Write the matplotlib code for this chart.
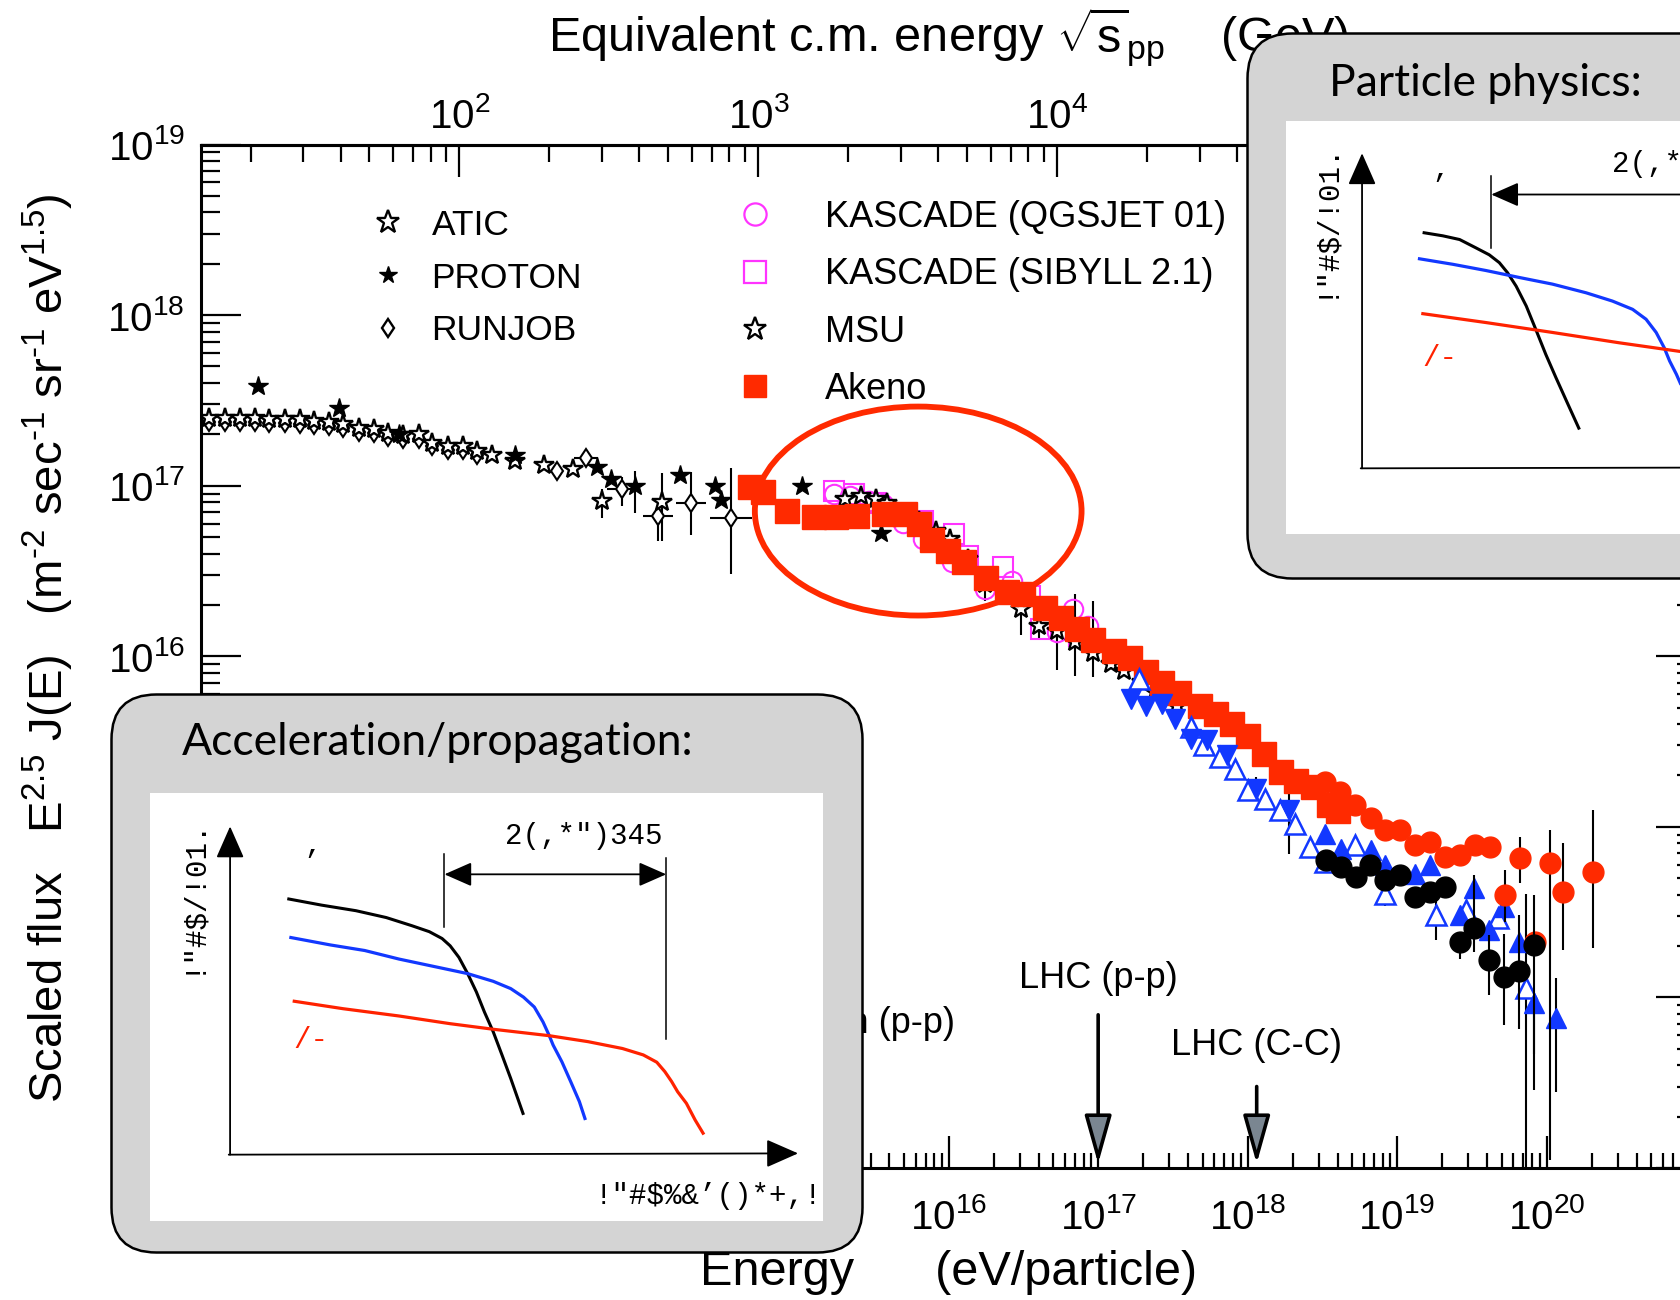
import numpy as np
import matplotlib
matplotlib.use('Agg')
import matplotlib.pyplot as plt
from matplotlib.lines import Line2D
from matplotlib.patches import FancyBboxPatch, Ellipse
from matplotlib.ticker import FixedLocator, FixedFormatter, LogLocator, NullFormatter

plt.rcParams['font.family'] = ['Liberation Sans', 'DejaVu Sans']
plt.rcParams['mathtext.fontset'] = 'custom'
plt.rcParams['mathtext.rm'] = 'Liberation Sans'
plt.rcParams['mathtext.it'] = 'Liberation Sans:italic'
plt.rcParams['mathtext.bf'] = 'Liberation Sans:bold'
plt.rcParams['mathtext.sf'] = 'Liberation Sans'

# ---------------- data (E in eV, scaled flux) ----------------
atic_E = [1.13e11, 1.43e11, 1.82e11, 2.29e11, 2.84e11, 3.62e11, 4.54e11, 5.66e11, 7.19e11,
          8.85e11, 1.13e12, 1.43e12, 1.76e12, 2.24e12, 2.84e12, 3.50e12, 4.46e12, 5.66e12,
          6.97e12, 8.85e12, 1.25e13, 1.95e13, 3.06e13, 4.78e13, 1.21e14]
atic_F = [2.50e17, 2.48e17, 2.50e17, 2.50e17, 2.45e17, 2.45e17, 2.45e17, 2.39e17, 2.36e17,
          2.29e17, 2.19e17, 2.14e17, 2.05e17, 1.97e17, 2.00e17, 1.79e17, 1.71e17, 1.71e17,
          1.60e17, 1.51e17, 1.40e17, 1.33e17, 1.25e17, 8.1e16, 8.0e16]
atic_lo = [0] * 23 + [0.10, 0.23]
atic_hi = [0] * 23 + [0.07, 0.17]

proton_E = [2.39e11, 8.38e11, 2.09e12, 1.25e13, 4.46e13, 5.48e13, 8.00e13, 1.59e14, 2.75e14,
            2.99e14, 1.05e15, 3.50e15]
proton_F = [3.83e17, 2.86e17, 2.00e17, 1.51e17, 1.28e17, 1.09e17, 9.95e16, 1.15e17, 1.00e17,
            8.24e16, 1.00e17, 5.31e16]
proton_lo = [0, 0, 0, 0, 0, 0, 0.16, 0, 0, 0, 0, 0]
proton_hi = [0, 0, 0, 0, 0, 0, 0.09, 0, 0, 0, 0, 0]

runjob_E = [1.13e11, 1.43e11, 1.82e11, 2.29e11, 2.84e11, 3.62e11, 4.54e11, 5.66e11, 7.19e11,
            8.85e11, 1.13e12, 1.43e12, 1.76e12, 2.24e12, 2.84e12, 3.50e12, 4.46e12, 5.66e12,
            6.97e12, 2.40e13, 3.75e13, 6.50e13, 1.13e14, 1.89e14, 3.51e14]
runjob_F = [2.36e17, 2.35e17, 2.36e17, 2.36e17, 2.32e17, 2.32e17, 2.31e17, 2.26e17, 2.23e17,
            2.17e17, 2.07e17, 2.03e17, 1.94e17, 1.87e17, 1.89e17, 1.70e17, 1.62e17, 1.62e17,
            1.52e17, 1.22e17, 1.46e17, 9.53e16, 6.66e16, 7.96e16, 6.50e16]
runjob_lo = [0] * 19 + [0, 0, 0.10, 0.15, 0.19, 0.33]
runjob_hi = [0] * 19 + [0, 0, 0.07, 0.08, 0.18, 0.29]
runjob_xe = [0] * 19 + [0, 0.08, 0.10, 0.10, 0.10, 0.14]

kq_E = [1.70e15, 2.17e15, 2.95e15, 3.62e15, 4.94e15, 6.73e15, 1.05e16, 1.76e16, 2.66e16,
        5.30e16, 6.75e16, 8.57e16]
kq_F = [8.91e16, 8.71e16, 8.13e16, 7.78e16, 6.08e16, 4.85e16, 3.55e16, 2.48e16, 2.77e16,
        1.38e16, 1.89e16, 1.51e16]

ks_E = [1.70e15, 2.32e15, 3.27e15, 4.94e15, 6.73e15, 1.09e16, 1.34e16, 2.32e16, 3.51e16,
        4.17e16, 7.48e16]
ks_F = [9.31e16, 8.91e16, 7.96e16, 6.65e16, 6.21e16, 5.20e16, 3.88e16, 3.32e16, 2.26e16,
        1.45e16, 1.32e16]

msu_E = [2.02e15, 2.57e15, 3.27e15, 3.88e15, 6.28e15, 8.28e15, 1.02e16, 1.34e16, 1.76e16,
         3.05e16, 4.03e16, 5.30e16, 6.97e16, 9.18e16, 1.21e17, 1.49e17, 1.96e17, 2.40e17, 3.39e17]
msu_F = [8.32e16, 8.71e16, 8.32e16, 7.96e16, 6.21e16, 5.43e16, 4.85e16, 3.71e16, 2.65e16,
         1.89e16, 1.51e16, 1.41e16, 1.21e16, 1.05e16, 9.02e15, 8.24e15, 7.05e15, 6.15e15, 5.14e15]
msu_lo = [0, 0, 0, 0, 0, 0, 0, 0, 0.10, 0.15, 0.07, 0.23, 0.20, 0.14, 0, 0, 0, 0, 0]
msu_hi = [0, 0, 0, 0, 0, 0, 0, 0, 0.05, 0.08, 0.15, 0.02, 0.28, 0.30, 0, 0, 0, 0, 0]

akeno_E = [4.68e14, 5.70e14, 8.34e14, 1.26e15, 1.75e15, 2.44e15, 3.68e15, 5.13e15, 6.35e15,
           7.74e15, 9.91e15, 1.27e16, 1.77e16, 2.46e16, 3.15e16, 4.39e16, 5.61e16, 7.19e16,
           9.20e16, 1.28e17, 1.64e17, 2.10e17, 2.69e17, 3.45e17, 4.80e17, 6.15e17, 7.87e17,
           1.01e18, 1.29e18, 1.66e18, 2.12e18, 2.72e18, 3.48e18, 4.01e18]
akeno_F = [9.86e16, 9.16e16, 7.08e16, 6.58e16, 6.58e16, 6.67e16, 6.87e16, 6.87e16, 5.94e16,
           4.79e16, 4.15e16, 3.59e16, 2.89e16, 2.39e16, 2.33e16, 1.93e16, 1.67e16, 1.45e16,
           1.25e16, 1.08e16, 9.79e15, 8.11e15, 7.01e15, 6.08e15, 5.11e15, 4.60e15, 3.98e15,
           3.39e15, 2.69e15, 2.09e15, 1.86e15, 1.70e15, 1.35e15, 1.24e15]

redc_E = [3.28e18, 4.13e18, 5.20e18, 6.73e18, 8.26e18, 1.04e19, 1.31e19, 1.65e19, 2.08e19,
          2.62e19, 3.30e19, 4.16e19, 5.25e19, 6.61e19, 8.32e19, 1.05e20, 1.29e20, 2.04e20]
redc_F = [1.83e15, 1.60e15, 1.34e15, 1.12e15, 9.55e14, 9.55e14, 7.80e14, 8.17e14, 6.67e14,
          6.81e14, 7.80e14, 7.62e14, 3.97e14, 6.52e14, 2.12e14, 6.10e14, 4.16e14, 5.45e14]
redc_lo = [0] * 11 + [0.05, 0.155, 0.146, 0, 1.74, 0.341, 0.449]
redc_hi = [0] * 11 + [0.05, 0.146, 0.127, 0, 0.195, 0.283, 0.361]

blkc_E = [3.37e18, 4.24e18, 5.28e18, 6.62e18, 8.26e18, 1.04e19, 1.31e19, 1.65e19, 2.08e19,
          2.62e19, 3.25e19, 4.12e19, 5.16e19, 6.55e19, 8.24e19]
blkc_F = [6.37e14, 5.82e14, 5.09e14, 5.96e14, 4.86e14, 5.20e14, 3.89e14, 4.16e14, 4.45e14,
          2.12e14, 2.54e14, 1.66e14, 1.32e14, 1.42e14, 2.03e14]
blkc_lo = [0] * 9 + [0.10, 0.136, 0.205, 0.28, 0.34, 0.85]
blkc_hi = [0] * 9 + [0.05, 0.31, 0.146, 0.25, 0.33, 0.29]

bup_E = [3.28e18, 4.24e18, 6.73e18, 8.26e18, 1.31e19, 1.65e19, 2.62e19, 3.25e19, 4.12e19,
         5.16e19, 6.55e19, 8.24e19, 1.16e20]
bup_F = [9.12e14, 7.45e14, 7.29e14, 5.96e14, 5.32e14, 5.96e14, 3.03e14, 4.35e14, 2.48e14,
         3.40e14, 2.12e14, 9.23e13, 7.55e13]
bup_lo = [0] * 11 + [0.30, 0.43]
bup_hi = [0] * 11 + [0.0, 0.233]

bopen_E = [1.89e17, 4.17e17, 5.13e17, 6.52e17, 8.28e17, 1.01e18, 1.30e18, 1.64e18, 2.07e18,
           2.60e18, 3.28e18, 5.20e18, 8.26e18, 1.83e19, 2.91e19, 4.73e19, 7.33e19]
bopen_F = [7.36e15, 3.85e15, 3.00e15, 2.56e15, 2.19e15, 1.64e15, 1.46e15, 1.25e15, 1.04e15,
           7.62e14, 6.24e14, 7.80e14, 4.06e14, 3.03e14, 3.24e14, 2.90e14, 1.13e14]
bopen_lo = [0] * 12 + [0.07, 0.146, 0, 0, 1.05]
bopen_hi = [0] * 12 + [0.07, 0.117, 0, 0, 0.55]

bdown_E = [1.65e17, 2.09e17, 2.67e17, 3.27e17, 4.17e17, 5.31e17, 7.23e17, 1.13e18, 1.89e18]
bdown_F = [5.62e15, 5.14e15, 5.26e15, 4.30e15, 3.28e15, 3.21e15, 2.62e15, 1.67e15, 1.25e15]
bdown_lo = [0] * 7 + [0.07, 0.254]
bdown_hi = [0] * 7 + [0.07, 0.107]

collider_labels = ["Tevatron (p-p)", "LHC (p-p)", "LHC (C-C)"]
collider_E = [1.96e15, 1.0e17, 1.15e18]
collider_text_F = [7.0e13, 1.29e14, 5.2e13]
collider_top_F = [4.4e13, 7.9e13, 3.0e13]
collider_tip_F = [1.06e13, 1.06e13, 1.06e13]

x_exps = list(range(11, 22))
x_labelled = list(range(16, 21))      # decades whose labels are not hidden by the inset
y_exps = list(range(13, 20))
y_labelled = list(range(16, 20))
top_exps = [1, 2, 3, 4, 5]
top_labelled = [2, 3, 4]

# schematic inset curves (normalised panel coordinates)
acc_black_x = [0.204, 0.255, 0.306, 0.351, 0.389, 0.415, 0.434, 0.446, 0.459, 0.472, 0.485,
               0.497, 0.510, 0.523, 0.536, 0.555]
acc_black_y = [0.753, 0.738, 0.725, 0.709, 0.690, 0.676, 0.660, 0.643, 0.616, 0.578, 0.535,
               0.488, 0.442, 0.388, 0.333, 0.248]
acc_blue_x = [0.207, 0.268, 0.319, 0.370, 0.421, 0.472, 0.510, 0.536, 0.555, 0.571, 0.584,
              0.593, 0.599, 0.612, 0.625, 0.638, 0.647]
acc_blue_y = [0.663, 0.645, 0.632, 0.612, 0.595, 0.578, 0.560, 0.543, 0.523, 0.500, 0.465,
              0.434, 0.411, 0.372, 0.326, 0.279, 0.236]
acc_red_x = [0.212, 0.287, 0.370, 0.446, 0.510, 0.593, 0.651, 0.702, 0.733, 0.753, 0.765,
             0.775, 0.784, 0.797, 0.810, 0.823]
acc_red_y = [0.514, 0.496, 0.479, 0.461, 0.448, 0.433, 0.419, 0.403, 0.388, 0.371, 0.349,
             0.326, 0.302, 0.275, 0.236, 0.202]

pp_black_x = [0.203, 0.233, 0.258, 0.282, 0.302, 0.317, 0.329, 0.342, 0.357, 0.371, 0.386,
              0.401, 0.419, 0.436]
pp_black_y = [0.730, 0.722, 0.713, 0.693, 0.676, 0.657, 0.633, 0.600, 0.552, 0.496, 0.435,
              0.379, 0.314, 0.253]
pp_blue_x = [0.196, 0.248, 0.297, 0.347, 0.396, 0.446, 0.485, 0.515, 0.535, 0.550, 0.562,
             0.570, 0.580, 0.590]
pp_blue_y = [0.667, 0.653, 0.638, 0.621, 0.605, 0.584, 0.564, 0.544, 0.520, 0.488, 0.451,
             0.419, 0.387, 0.350]
pp_red_x = [0.201, 0.297, 0.396, 0.495, 0.590]
pp_red_y = [0.534, 0.512, 0.488, 0.463, 0.441]

RED = '#ff2a00'
BLUE = '#1238ff'
MAG = '#ff33ff'

W, H = 1680, 1300
fig = plt.figure(figsize=(W / 100, H / 100), dpi=100)
fig.patch.set_facecolor('white')

ax_l, ax_r, ax_t, ax_b = 201.4, 1696.0, 144.6, 1167.9
ax = fig.add_axes([ax_l / W, 1 - ax_b / H, (ax_r - ax_l) / W, (ax_b - ax_t) / H])
ax.set_xscale('log')
ax.set_yscale('log')
ax.set_xlim(1e11, 1e21)
ax.set_ylim(1e13, 1e19)


def dec_err(F, lo, hi):
    F = np.asarray(F, float)
    return [F * (1 - 10 ** (-np.asarray(lo, float))), F * (10 ** np.asarray(hi, float) - 1)]


def plot_set(E, F, lo=None, hi=None, xe=None, z=3, **kw):
    E = np.asarray(E, float)
    F = np.asarray(F, float)
    yerr = dec_err(F, lo, hi) if lo is not None else None
    xerr = dec_err(E, xe, xe) if xe is not None else None
    ax.errorbar(E, F, yerr=yerr, xerr=xerr, ls='none', ecolor='k', elinewidth=1.5,
                capsize=0, zorder=z, **kw)


star_open = dict(marker='*', ms=14.5, mfc='white', mec='k', mew=1.7)
diam_open = dict(marker='d', ms=9.5, mfc='white', mec='k', mew=1.5)
plot_set(runjob_E, runjob_F, runjob_lo, runjob_hi, runjob_xe, **diam_open)
plot_set(atic_E, atic_F, atic_lo, atic_hi, **star_open)
plot_set(proton_E, proton_F, proton_lo, proton_hi, marker='*', ms=15, mfc='k', mec='k')
plot_set(kq_E, kq_F, marker='o', ms=14, mfc='none', mec=MAG, mew=1.5)
plot_set(ks_E, ks_F, marker='s', ms=14, mfc='none', mec=MAG, mew=1.5)
plot_set(msu_E, msu_F, msu_lo, msu_hi, **star_open)
plot_set(akeno_E, akeno_F, marker='s', ms=17, mfc=RED, mec=RED, z=4)
plot_set(bopen_E, bopen_F, bopen_lo, bopen_hi, marker='^', ms=15, mfc='white', mec=BLUE,
         mew=1.8, z=4)
plot_set(bdown_E, bdown_F, bdown_lo, bdown_hi, marker='v', ms=15, mfc=BLUE, mec=BLUE, z=4)
plot_set(bup_E, bup_F, bup_lo, bup_hi, marker='^', ms=15, mfc=BLUE, mec=BLUE, z=4)
plot_set(redc_E, redc_F, redc_lo, redc_hi, marker='o', ms=15, mfc=RED, mec=RED, z=5)
plot_set(blkc_E, blkc_F, blkc_lo, blkc_hi, marker='o', ms=15, mfc='k', mec='k', z=6)

# highlight ellipse
ax.add_patch(Ellipse((0.4796, 0.6419), 0.2186, 0.2042, transform=ax.transAxes,
                     fill=False, ec=RED, lw=4.2, zorder=7))

# collider arrows
for lab, e, ft, fa, fb in zip(collider_labels, collider_E, collider_text_F,
                              collider_top_F, collider_tip_F):
    ax.annotate('', xy=(e, fb), xytext=(e, fa),
                arrowprops=dict(arrowstyle='-|>,head_length=1.5,head_width=0.42',
                                mutation_scale=20, lw=2.6, ec='k', fc='#7a8691',
                                shrinkA=0, shrinkB=0), zorder=8)
    ax.text(e, ft, lab, ha='center', va='center', fontsize=26, zorder=8)


def dec_labels(exps, shown):
    return [r'$\mathdefault{10^{%d}}$' % e if e in shown else '' for e in exps]


# axes styling
for s in ax.spines.values():
    s.set_linewidth(2.2)
ax.xaxis.set_major_locator(FixedLocator([10.0 ** e for e in x_exps]))
ax.xaxis.set_major_formatter(FixedFormatter(dec_labels(x_exps, x_labelled)))
ax.xaxis.set_minor_locator(LogLocator(base=10, subs=np.arange(2, 10), numticks=40))
ax.xaxis.set_minor_formatter(NullFormatter())
ax.yaxis.set_major_locator(FixedLocator([10.0 ** e for e in y_exps]))
ax.yaxis.set_major_formatter(FixedFormatter(dec_labels(y_exps, y_labelled)))
ax.yaxis.set_minor_locator(LogLocator(base=10, subs=np.arange(2, 10), numticks=40))
ax.yaxis.set_minor_formatter(NullFormatter())
ax.tick_params(axis='both', which='both', direction='in', top=False, right=True,
               labelsize=29, width=1.6)
ax.tick_params(axis='x', which='major', length=23, pad=22)
ax.tick_params(axis='x', which='minor', length=11)
ax.tick_params(axis='y', which='major', length=29, pad=12)
ax.tick_params(axis='y', which='minor', length=14)

m2 = 2 * 0.938e9


def fwd(E):
    return np.sqrt(m2 * np.clip(np.asarray(E, float), 1e-30, None)) / 1e9


def inv(s):
    return (np.asarray(s, float) * 1e9) ** 2 / m2


secax = ax.secondary_xaxis('top', functions=(fwd, inv))
secax.xaxis.set_major_locator(FixedLocator([10.0 ** e for e in top_exps]))
secax.xaxis.set_major_formatter(FixedFormatter(dec_labels(top_exps, top_labelled)))
secax.xaxis.set_minor_locator(LogLocator(base=10, subs=np.arange(2, 10), numticks=40))
secax.xaxis.set_minor_formatter(NullFormatter())
secax.tick_params(axis='x', which='both', direction='in', labelsize=29, width=1.6)
secax.tick_params(axis='x', which='major', length=23, pad=6)
secax.tick_params(axis='x', which='minor', length=12)
secax.spines['top'].set_linewidth(2.2)

ax.text(0.5, 1.1046, r'Equivalent c.m. energy $\sqrt{\mathregular{s}}_{\mathregular{pp}}$    (GeV)',
        transform=ax.transAxes, ha='center', va='center', fontsize=35)
ax.set_xlabel('Energy      (eV/particle)', fontsize=35, va='center')
ax.xaxis.set_label_coords(0.5, -0.1027)
ax.set_ylabel(r'Scaled flux   E$^{2.5}$ J(E)   (m$^{\text{-2}}$ sec$^{\text{-1}}$ '
              r'sr$^{\text{-1}}$ eV$^{1.5}$)',
              fontsize=34, va='center', ha='center')
ax.yaxis.set_label_coords(-0.1026, 0.508)

# legends
h = dict(ls='none')
hl1 = [Line2D([], [], **h, marker='*', ms=17, mfc='white', mec='k', mew=1.7),
       Line2D([], [], **h, marker='*', ms=13, mfc='k', mec='k'),
       Line2D([], [], **h, marker='d', ms=9.5, mfc='white', mec='k', mew=1.7)]
leg1 = ax.legend(hl1, ['ATIC', 'PROTON', 'RUNJOB'], loc='upper left',
                 bbox_to_anchor=(0.2202, 0.8394), bbox_transform=fig.transFigure,
                 frameon=False, fontsize=25.5, handlelength=1.0, handletextpad=0.74,
                 labelspacing=0.56, borderpad=0, borderaxespad=0, numpoints=1)
ax.add_artist(leg1)
hl2 = [Line2D([], [], **h, marker='o', ms=16, mfc='none', mec=MAG, mew=1.6),
       Line2D([], [], **h, marker='s', ms=16, mfc='none', mec=MAG, mew=1.6),
       Line2D([], [], **h, marker='*', ms=17, mfc='white', mec='k', mew=1.7),
       Line2D([], [], **h, marker='s', ms=16, mfc=RED, mec=RED)]
ax.legend(hl2, ['KASCADE (QGSJET 01)', 'KASCADE (SIBYLL 2.1)', 'MSU', 'Akeno'],
          loc='upper left', bbox_to_anchor=(0.4387, 0.8462), bbox_transform=fig.transFigure,
          frameon=False, fontsize=26, handlelength=1.0, handletextpad=1.44,
          labelspacing=0.62, borderpad=0, borderaxespad=0, numpoints=1)


# ---------------- inset panels ----------------
def panel(box_px, inner_px, title, title_xy, z):
    bx, by, bw, bh = box_px
    bax = fig.add_axes([bx / W, 1 - (by + bh) / H, bw / W, bh / H], zorder=z)
    bax.set_xlim(0, bw)
    bax.set_ylim(0, bh)
    bax.axis('off')
    bax.add_patch(FancyBboxPatch((1.5, 1.5), bw - 3, bh - 3,
                                 boxstyle='round,pad=0,rounding_size=45',
                                 fc='#d4d4d4', ec='k', lw=1.8, clip_on=False))
    bax.text(title_xy[0], title_xy[1], title, fontsize=32, family=['Lato', 'DejaVu Sans'],
             ha='left', va='center')
    ix, iy, iw, ih = inner_px
    sax = fig.add_axes([ix / W, 1 - (iy + ih) / H, iw / W, ih / H], zorder=z + 1)
    sax.set_xlim(0, 1)
    sax.set_ylim(0, 1)
    sax.set_xticks([])
    sax.set_yticks([])
    for s in sax.spines.values():
        s.set_visible(False)
    sax.set_facecolor('white')
    return sax


mono = ['Liberation Mono', 'DejaVu Sans Mono']
arrow_kw = dict(arrowstyle='-|>,head_length=0.5,head_width=0.22', color='k', lw=1.3,
                mutation_scale=40, shrinkA=0, shrinkB=0)
dbl_kw = dict(arrowstyle='<|-|>,head_length=0.5,head_width=0.22', color='k', lw=1.3,
              mutation_scale=34, shrinkA=0, shrinkB=0)


def schematic(sax, bx, by, rx, ry, kx, ky, vlines, dbl, ylab_xy, top_xy, top_ha,
              axis_x, axis_y_end, mark_xy, red_xy):
    sax.annotate('', xy=(axis_x, 0.922), xytext=(axis_x, axis_y_end), arrowprops=arrow_kw)
    sax.annotate('', xy=(0.963, axis_y_end + 0.003), xytext=(axis_x - 0.002, axis_y_end),
                 arrowprops=arrow_kw)
    sax.plot(bx, by, color='k', lw=2.2, solid_capstyle='butt')
    sax.plot(rx, ry, color=BLUE, lw=2.3, solid_capstyle='butt')
    sax.plot(kx, ky, color='#ff2200', lw=2.3, solid_capstyle='butt')
    for (vx, v0, v1) in vlines:
        sax.plot([vx, vx], [v0, v1], color='k', lw=1.1)
    sax.annotate('', xy=(dbl[0], dbl[2]), xytext=(dbl[1], dbl[2]), arrowprops=dbl_kw)
    sax.text(ylab_xy[0], ylab_xy[1], '!"#$/!01.', rotation=90, family=mono, fontsize=21,
             ha='center', va='center')
    sax.text(top_xy[0], top_xy[1], '2(,*")345', family=mono, fontsize=21, ha=top_ha,
             va='center')
    sax.text(mark_xy[0], mark_xy[1], '\u2019', family=mono, fontsize=21, ha='center',
             va='center')
    sax.text(red_xy[0], red_xy[1], '/-', family=mono, fontsize=21, ha='center', va='center',
             color='#ff2200')


sax1 = panel((110, 693, 754, 561), (150, 793, 673, 428), 'Acceleration/propagation:',
             (72, 512), 20)
schematic(sax1, acc_black_x, acc_black_y, acc_blue_x, acc_blue_y, acc_red_x, acc_red_y,
          [(0.4375, 0.686, 0.858), (0.767, 0.426, 0.847)], (0.4375, 0.767, 0.81),
          (0.061, 0.76), (0.644, 0.899), 'center', 0.119, 0.155, (0.239, 0.836),
          (0.239, 0.422))
sax1.text(0.998, 0.058, '!"#$%&\u2019()*+,!', family=mono, fontsize=21, ha='right',
          va='center')

sax2 = panel((1246, 32, 754, 548), (1286, 121, 673, 413), 'Particle physics:',
             (83, 496), 30)
schematic(sax2, pp_black_x, pp_black_y, pp_blue_x, pp_blue_y, pp_red_x, pp_red_y,
          [(0.305, 0.693, 0.867)], (0.305, 0.80, 0.822),
          (0.057, 0.762), (0.485, 0.895), 'left', 0.113, 0.159, (0.228, 0.839),
          (0.228, 0.427))

fig.savefig('out.png', dpi=100)
